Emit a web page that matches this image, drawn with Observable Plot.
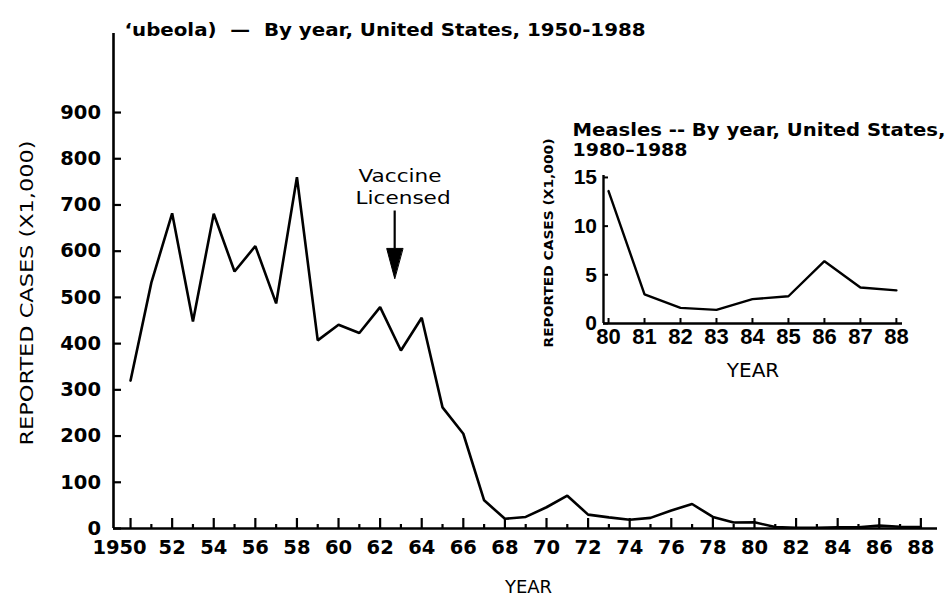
<!DOCTYPE html>
<html><head><meta charset="utf-8">
<script src="https://cdn.jsdelivr.net/npm/d3@7"></script>
<script src="https://cdn.jsdelivr.net/npm/@observablehq/plot@0.6"></script>
<style>
body{margin:0;background:#fff;}
#wrap{position:relative;width:948px;height:598px;background:#fff;}
#inset{position:absolute;left:530px;top:110px;}
svg{overflow:visible;}
</style></head><body><div id="wrap"><div id="main"></div><div id="inset"></div></div>
<script>
// ---- data ----
const years = [1950,1951,1952,1953,1954,1955,1956,1957,1958,1959,1960,1961,1962,1963,1964,1965,1966,1967,1968,1969,1970,1971,1972,1973,1974,1975,1976,1977,1978,1979,1980,1981,1982,1983,1984,1985,1986,1987,1988];
const cases = [320,532,682,448,681,556,611,487,760,407,441,423,479,385,456,262,205,61,21,25,46,71,30,24,19,23,39,53,25,13,13.5,3.1,1.7,1.5,2.6,2.8,6.3,3.7,3.4];
const yTicks = [0,100,200,300,400,500,600,700,800,900];
const xMajorTicks = [1952,1954,1956,1958,1960,1962,1964,1966,1968,1970,1972,1974,1976,1978,1980,1982,1984,1986,1988];
const xMajorLabels = ["52","54","56","58","60","62","64","66","68","70","72","74","76","78","80","82","84","86","88"];
const xFirstTick = [1950];
const xFirstLabel = "1950";
const xMinorTicks = [1951,1953,1955,1957,1959,1961,1963,1965,1967,1969,1971,1973,1975,1977,1979,1981,1983,1985,1987];

const insetYears = [1980,1981,1982,1983,1984,1985,1986,1987,1988];
const insetCases = [13.6,3.0,1.6,1.4,2.5,2.8,6.4,3.7,3.4];
const insetYTicks = [0,5,10,15];
const insetXLabels = ["80","81","82","83","84","85","86","87","88"];

const titleText = "\u2018ubeola)  \u2014  By year, United States, 1950-1988";
const yLabel = "REPORTED CASES (X1,000)";
const xLabel = "YEAR";
const insetTitle1 = "Measles -- By year, United States,";
const insetTitle2 = "1980\u20131988";
const annotLine1 = "Vaccine";
const annotLine2 = "Licensed";
const annotYear = 1962.7;       // arrow position
const annotX1 = 1960.96, annotX2 = 1960.82;
const annotValue1 = 750.7, annotValue2 = 703;
const arrowFrom = 688, arrowHeadBase = 606;

// ---- main chart ----
const mainData = years.map((y, i) => ({year: y, cases: cases[i]}));
const xMin = 1949.18, xMax = 1988.8;
const arrowHead = {draw(ctx, l) { ctx.moveTo(-8, 0); ctx.lineTo(8, 0); ctx.lineTo(0, -l); ctx.closePath(); }};

const main = Plot.plot({
  width: 948, height: 598,
  marginLeft: 113, marginRight: 11, marginTop: 33, marginBottom: 70,
  x: {domain: [xMin, xMax]},
  y: {domain: [0, 1071]},
  style: {fontFamily: "DejaVu Sans", background: "transparent", color: "black"},
  marks: [
    Plot.ruleX([xMin], {strokeWidth: 2.6}),
    Plot.ruleY([0], {strokeWidth: 2.6}),
    Plot.axisY(yTicks, {tickSize: -8, tickPadding: 20.5, strokeWidth: 2.2, fontSize: 19.5, fontWeight: "bold", label: null}),
    Plot.axisX(xMajorTicks, {tickSize: -10, tickPadding: 22, strokeWidth: 2.2, fontSize: 19.5, fontWeight: "bold", label: null,
      tickFormat: d => xMajorLabels[xMajorTicks.indexOf(d)]}),
    Plot.axisX(xFirstTick, {tickSize: -10, tickPadding: 0, strokeWidth: 2.2, label: null, tickFormat: () => ""}),
    Plot.text([xFirstLabel], {x: xFirstTick[0], frameAnchor: "bottom", lineAnchor: "top", dy: 12, dx: -11, fontSize: 19.5, fontWeight: "bold"}),
    Plot.axisX(xMinorTicks, {tickSize: -4, tickPadding: 0, strokeWidth: 2.2, label: null, tickFormat: () => ""}),
    Plot.line(mainData, {x: "year", y: "cases", stroke: "black", strokeWidth: 2.6, strokeLinejoin: "miter"}),
    Plot.link([annotYear], {x1: d => d, x2: d => d, y1: arrowFrom, y2: arrowHeadBase, strokeWidth: 2.2, stroke: "black"}),
    Plot.vector([annotYear], {x: d => d, y: arrowHeadBase, length: 30, rotate: 180, anchor: "start", shape: arrowHead, fill: "black", stroke: "black", strokeWidth: 1}),
    Plot.text([annotLine1], {x: annotX1, y: annotValue1, lineAnchor: "bottom", fontSize: 18.5, textAnchor: "start"}),
    Plot.text([annotLine2], {x: annotX2, y: annotValue2, lineAnchor: "bottom", fontSize: 18.5, textAnchor: "start"}),
    Plot.text([titleText], {frameAnchor: "top-left", textAnchor: "start", lineAnchor: "bottom", dx: 11, dy: 2, fontSize: 18, fontWeight: "bold"}),
    Plot.text([yLabel], {frameAnchor: "left", rotate: -90, textAnchor: "start", lineAnchor: "top", dx: -93, dy: 164.5, fontSize: 17}),
    Plot.text([xLabel], {frameAnchor: "bottom", lineAnchor: "top", dy: 52, dx: 3, fontSize: 18})
  ]
});
document.getElementById("main").appendChild(main);

// ---- inset ----
const insetData = insetYears.map((y, i) => ({year: y, cases: insetCases[i]}));
const ixMin = 1979.86, ixMax = 1988.17;
const inset = Plot.plot({
  width: 418, height: 280,
  marginLeft: 73, marginRight: 46, marginTop: 65, marginBottom: 67,
  x: {domain: [ixMin, ixMax]},
  y: {domain: [0, 15.2]},
  style: {fontFamily: "DejaVu Sans", background: "transparent", color: "black"},
  marks: [
    Plot.ruleX([ixMin], {strokeWidth: 2.4}),
    Plot.ruleY([0], {strokeWidth: 2.4}),
    Plot.axisY(insetYTicks, {tickSize: -5, tickPadding: 11.5, strokeWidth: 2, fontSize: 21, fontFamily: "Liberation Sans", fontWeight: "bold", label: null}),
    Plot.axisX(insetYears, {tickSize: -5, tickPadding: 10, strokeWidth: 2, fontSize: 22, fontFamily: "Liberation Sans", fontWeight: "bold", label: null,
      tickFormat: d => insetXLabels[insetYears.indexOf(d)]}),
    Plot.line(insetData, {x: "year", y: "cases", stroke: "black", strokeWidth: 2.4, strokeLinejoin: "miter"}),
    Plot.text([insetTitle1], {frameAnchor: "top-left", textAnchor: "start", lineAnchor: "bottom", dx: -31, dy: -40, fontSize: 18, fontWeight: "bold"}),
    Plot.text([insetTitle2], {frameAnchor: "top-left", textAnchor: "start", lineAnchor: "bottom", dx: -31, dy: -20, fontSize: 18, fontWeight: "bold"}),
    Plot.text([yLabel], {frameAnchor: "left", rotate: -90, textAnchor: "start", lineAnchor: "top", dx: -60, dy: 98, fontSize: 13, fontWeight: "bold"}),
    Plot.text([xLabel], {frameAnchor: "bottom", lineAnchor: "top", dy: 39, fontSize: 20})
  ]
});
document.getElementById("inset").appendChild(inset);

// fit text widths to the reference
function fit(svg, txt, len) {
  d3.select(svg).selectAll("text").each(function() {
    if (this.textContent === txt) { this.setAttribute("textLength", len); this.setAttribute("lengthAdjust", "spacingAndGlyphs"); }
  });
}
fit(main, titleText, 521);
fit(main, yLabel, 305);
fit(main, annotLine1, 83);
fit(main, annotLine2, 95);
fit(inset, insetTitle1, 373);
fit(inset, insetTitle2, 115);
fit(inset, yLabel, 209);
</script></body></html>
